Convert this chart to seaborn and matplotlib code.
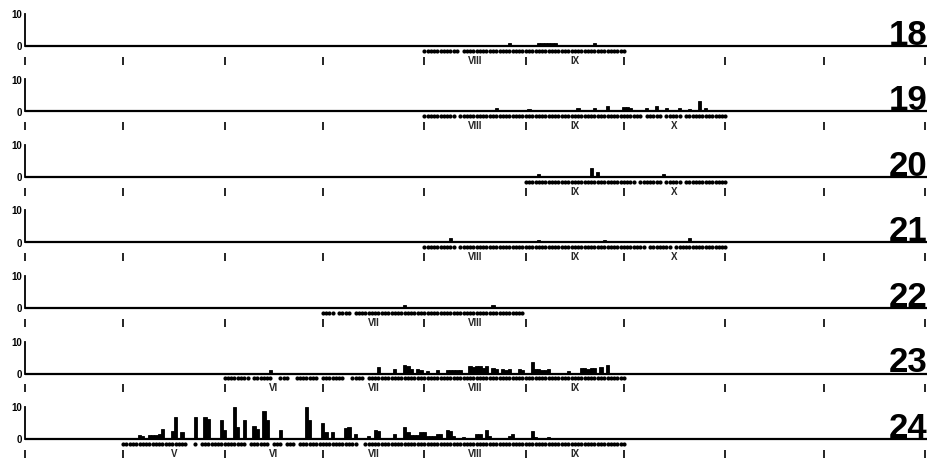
import numpy as np
import pandas as pd
import matplotlib
matplotlib.use("Agg")
import matplotlib.pyplot as plt
import seaborn as sns

sns.set_style("white")
plt.rcParams["font.family"] = ["Liberation Sans", "DejaVu Sans"]

# Days are counted from 1 April; month boundaries from April to January
month_starts = [0, 30, 61, 91, 122, 153, 183, 214, 244, 275]
month_names = ["IV", "V", "VI", "VII", "VIII", "IX", "X", "XI", "XII"]

years = ["18", "19", "20", "21", "22", "23", "24"]

# --- 1918 ---
days_18 = [148, 157, 158, 159, 160, 161, 162, 174]
vals_18 = [1.0, 0.9, 1.0, 1.0, 0.8, 1.0, 1.0, 0.8]
samples_18 = [(122, 132), (134, 183)]
months_18 = ["VIII", "IX"]

# --- 1919 ---
days_19 = [144, 154, 169, 174, 178, 183, 184, 185, 190, 193, 196, 200, 203, 206, 208]
vals_19 = [1.2, 0.8, 1.0, 1.0, 1.8, 1.5, 1.4, 1.0, 1.2, 1.6, 1.0, 1.0, 0.8, 3.3, 1.2]
samples_19 = [(122, 131), (133, 188), (190, 194), (196, 200), (202, 214)]
months_19 = ["VIII", "IX", "X"]

# --- 1920 ---
days_20 = [157, 173, 175, 195]
vals_20 = [0.8, 2.8, 1.5, 1.0]
samples_20 = [(153, 186), (188, 194), (196, 200), (202, 214)]
months_20 = ["IX", "X"]

# --- 1921 ---
days_21 = [130, 157, 177, 203]
vals_21 = [1.3, 0.7, 0.8, 1.5]
samples_21 = [(122, 131), (133, 189), (191, 197), (199, 214)]
months_21 = ["VIII", "IX", "X"]

# --- 1922 ---
days_22 = [116, 143]
vals_22 = [0.8, 1.0]
samples_22 = [(91, 94), (96, 99), (101, 152)]
months_22 = ["VII", "VIII"]

# --- 1923 ---
days_23 = [75, 108, 113, 116, 117, 118, 120, 121, 123, 126, 129, 130, 131, 132, 133,
           136, 137, 138, 139, 140, 141, 143, 144, 146, 147, 148, 151, 152, 155,
           156, 157, 158, 159, 160, 166, 170, 171, 172, 173, 174, 176, 178]
vals_23 = [1.0, 1.9, 1.5, 2.8, 2.4, 1.5, 1.3, 1.2, 0.8, 1.0, 1.2, 1.2, 1.0, 1.2, 1.2,
           2.2, 2.0, 2.4, 2.2, 1.8, 2.3, 1.8, 1.4, 1.5, 1.2, 1.5, 1.5, 1.2, 3.5,
           1.3, 1.3, 1.2, 1.2, 1.3, 0.8, 1.6, 1.8, 1.4, 1.6, 1.8, 2.0, 2.8]
samples_23 = [(61, 68), (70, 75), (78, 80), (83, 89), (91, 94), (95, 97), (100, 103), (105, 183)]
months_23 = ["VI", "VII", "VIII", "IX"]

# --- 1924 ---
days_24 = [35, 36, 38, 39, 40, 41, 42, 45, 46, 48, 52, 55, 56, 60, 61, 64, 65, 67,
           70, 71, 73, 74, 78, 86, 87, 91, 92, 94, 98, 99, 101, 105, 107, 108,
           113, 116, 117, 118, 119, 120, 121, 122, 123, 124, 125, 126, 127, 129,
           130, 131, 134, 138, 139, 141, 142, 148, 149, 155, 156, 160]
vals_24 = [1.1, 1.0, 1.2, 1.2, 1.4, 1.5, 3.0, 2.6, 7.0, 2.2, 7.0, 7.0, 6.2, 5.8, 2.7, 10.0, 3.6, 6.0,
           4.0, 3.2, 8.8, 6.0, 2.9, 10.0, 6.0, 5.0, 2.2, 2.2, 3.5, 3.7, 1.7, 1.0, 2.9, 2.5,
           1.7, 3.7, 2.2, 1.4, 1.4, 1.4, 2.2, 2.2, 1.0, 1.0, 1.0, 1.7, 1.7, 2.7,
           2.5, 1.0, 0.7, 1.7, 1.7, 2.7, 1.0, 1.0, 1.7, 2.5, 0.7, 0.7]
samples_24 = [(30, 49), (52, 52), (54, 67), (69, 74), (76, 78), (80, 82), (84, 94),
              (95, 101), (104, 183)]
months_24 = ["V", "VI", "VII", "VIII", "IX"]

rows = [
    (days_18, vals_18, samples_18, months_18),
    (days_19, vals_19, samples_19, months_19),
    (days_20, vals_20, samples_20, months_20),
    (days_21, vals_21, samples_21, months_21),
    (days_22, vals_22, samples_22, months_22),
    (days_23, vals_23, samples_23, months_23),
    (days_24, vals_24, samples_24, months_24),
]

W, H = 933, 465
fig = plt.figure(figsize=(W / 100, H / 100), dpi=100)

px_per_unit = 3.2
y_lo, y_hi = -5.9, 11.0
x0_px, x1_px = 25, 925

for i, (year, (days, vals, samples, months)) in enumerate(zip(years, rows)):
    base_px = 46 + 65.5 * i
    bottom_px = base_px - y_lo * px_per_unit
    height_px = (y_hi - y_lo) * px_per_unit
    ax = fig.add_axes([x0_px / W, 1 - bottom_px / H, (x1_px - x0_px) / W, height_px / H])

    bars = pd.DataFrame({"day": days, "value": vals})
    sns.histplot(data=bars, x="day", weights="value", discrete=True, shrink=1.0,
                 color="black", edgecolor="black", linewidth=0.6, alpha=1.0, ax=ax)

    sample_days = np.concatenate([np.arange(a, b + 1) for a, b in samples])
    dots = pd.DataFrame({"day": sample_days, "y": np.full(len(sample_days), -1.45)})
    sns.scatterplot(data=dots, x="day", y="y", marker="o", s=9, color="black",
                    linewidth=0, ax=ax)

    ax.hlines(0, 0, 275.6, color="black", lw=1.6, clip_on=False, zorder=3)

    ax.set_xlim(0, 275)
    ax.set_ylim(y_lo, y_hi)
    ax.set_xlabel("")
    ax.set_ylabel("")

    for side in ["top", "right", "bottom"]:
        ax.spines[side].set_visible(False)
    ax.spines["left"].set_bounds(0, 10)
    ax.spines["left"].set_linewidth(1.3)
    ax.spines["left"].set_color("black")

    ax.set_yticks([0, 10])
    ax.set_yticklabels(["0", "10"], fontsize=7, fontweight="bold")
    ax.tick_params(axis="y", direction="in", length=2.5, width=1.2, pad=2, colors="black")

    ax.set_xticks(month_starts)
    ax.set_xticklabels([])
    ax.tick_params(axis="x", direction="in", length=5.8, width=1.2, bottom=True, colors="black")

    for name in months:
        k = month_names.index(name)
        ax.text((month_starts[k] + month_starts[k + 1]) / 2, -4.6, name,
                ha="center", va="center", fontsize=7, fontweight="bold")

    ax.text(275.8, 0.4, year, ha="right", va="baseline", fontsize=25,
            fontweight="bold", color="black")

fig.savefig("out.png", dpi=100, facecolor="white")
